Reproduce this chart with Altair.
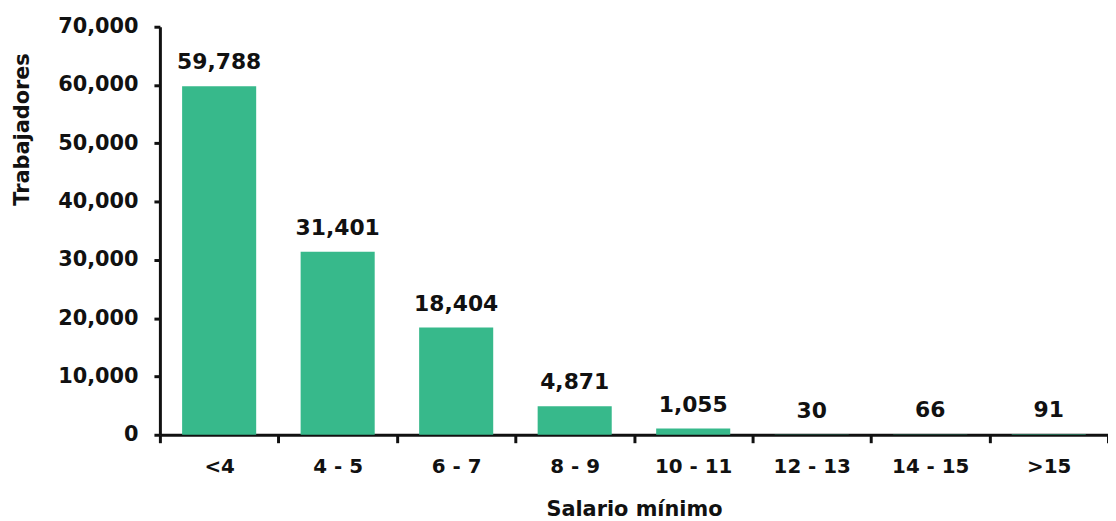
import altair as alt
import pandas as pd

categories = ["<4", "4 - 5", "6 - 7", "8 - 9", "10 - 11", "12 - 13", "14 - 15", ">15"]
values = [59788, 31401, 18404, 4871, 1055, 30, 66, 91]

df = pd.DataFrame({"cat": categories, "val": values})
FONT = "DejaVu Sans"
INK = "#111111"

x = alt.X("cat:N", sort=categories, title="Salario mínimo",
          scale=alt.Scale(paddingInner=0, paddingOuter=0),
          axis=alt.Axis(labelAngle=0, tickBand="extent", labelFontSize=20, labelFont=FONT,
                        labelFontWeight="bold", labelColor=INK, labelPadding=14,
                        tickSize=8, tickWidth=3, tickColor=INK, domainWidth=3, domainColor=INK,
                        titleFontSize=21, titleFont=FONT, titleFontWeight="bold", titleColor=INK,
                        titlePadding=22))
y = alt.Y("val:Q", title="Trabajadores",
          scale=alt.Scale(domain=[0, 70000]),
          axis=alt.Axis(values=list(range(0, 70001, 10000)), grid=False,
                        labelExpr="format(datum.value, ',')",
                        labelFontSize=21, labelFont=FONT, labelFontWeight="bold", labelColor=INK,
                        labelPadding=16, tickSize=6, tickWidth=3, tickColor=INK,
                        domainWidth=3, domainColor=INK,
                        titleFontSize=21, titleFont=FONT, titleFontWeight="bold", titleColor=INK,
                        titleX=-138, titleY=103, titleAngle=-90, titleAlign="center",
                        titleBaseline="middle"))

bars = alt.Chart(df).mark_bar(color="#37B98B", width=alt.RelativeBandSize(0.625)).encode(x=x, y=y)
labels = alt.Chart(df).mark_text(dy=-17, baseline="alphabetic", fontSize=22, font=FONT,
                                 fontWeight="bold", color=INK).encode(
    x=x, y=y, text=alt.Text("val:Q", format=","))

chart = (bars + labels).properties(
    width=955, height=411,
    autosize=alt.AutoSizeParams(type="none"),
    padding={"left": 153, "top": 17, "right": 0, "bottom": 85},
).configure_view(stroke=None)

chart.save("out.html", embed_options={"renderer": "svg", "actions": False})
